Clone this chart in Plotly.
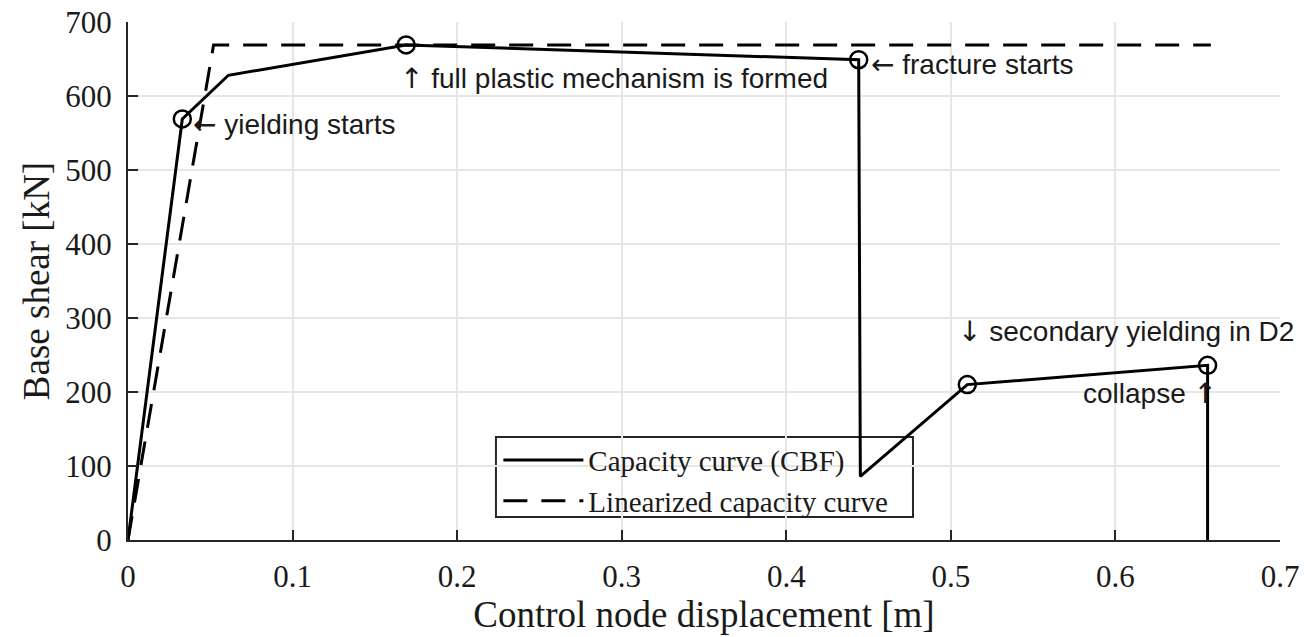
import plotly.graph_objects as go

# Capacity curve (CBF)
cap_x = [0.0, 0.033, 0.061, 0.169, 0.444, 0.445, 0.510, 0.656, 0.656]
cap_y = [0, 569, 628, 669, 649, 86, 210, 236, 0]

# Linearized capacity curve
lin_x = [0.0, 0.052, 0.658]
lin_y = [0, 669, 669]

# Marked events (indices into capacity curve)
event_idx = [1, 3, 4, 6, 7]

x_ticks = [0, 0.1, 0.2, 0.3, 0.4, 0.5, 0.6, 0.7]
x_tick_text = ["0", "0.1", "0.2", "0.3", "0.4", "0.5", "0.6", "0.7"]
y_ticks = [0, 100, 200, 300, 400, 500, 600, 700]

ARROW = '<span style="font-family:DejaVu Sans">{}</span>'
annotations_data = [
    (ARROW.format("\u2190") + " yielding starts", 0.0385, 562, "left"),
    (ARROW.format("\u2191") + " full plastic mechanism is formed", 0.164, 624, "left"),
    (ARROW.format("\u2190") + " fracture starts", 0.450, 642, "left"),
    (ARROW.format("\u2193") + " secondary yielding in D2", 0.503, 282, "left"),
    ("collapse " + ARROW.format("\u2191"), 0.663, 198, "right"),
]

SERIF = "Liberation Serif, Times New Roman, serif"
SANS = "Liberation Sans, Arial, sans-serif"
TXT = "#1a1a1a"

fig = go.Figure()
fig.add_trace(go.Scatter(
    x=cap_x, y=cap_y, mode="lines", name="Capacity curve (CBF)",
    line=dict(color="black", width=3),
))
fig.add_trace(go.Scatter(
    x=lin_x, y=lin_y, mode="lines", name="Linearized capacity curve",
    line=dict(color="black", width=3, dash="24px,14px"),
))
fig.add_trace(go.Scatter(
    x=[cap_x[i] for i in event_idx], y=[cap_y[i] for i in event_idx],
    mode="markers", showlegend=False,
    marker=dict(symbol="circle-open", size=17, color="black", line=dict(width=2.5)),
))

for text, ax, ay, anchor in annotations_data:
    fig.add_annotation(
        x=ax, y=ay, text=text, showarrow=False, xanchor=anchor, yanchor="middle",
        font=dict(family=SANS, size=28, color=TXT),
    )

# legend frame: white box drawn above the grid but below the curves
fig.add_shape(
    type="rect", xref="paper", yref="paper",
    x0=0.3194, x1=0.6814, y0=0.0444, y1=0.1988,
    fillcolor="white", line=dict(color="#262626", width=2), layer="between",
)

axis_common = dict(
    showgrid=True, gridcolor="#e6e6e6", gridwidth=1.5,
    showline=True, linecolor="#262626", linewidth=2,
    ticks="inside", ticklen=10, tickwidth=1.5, tickcolor="#262626",
    zeroline=False, mirror=False, automargin=False,
    ticklabeloverflow="allow",
    tickfont=dict(family=SERIF, size=31, color=TXT),
)

fig.update_xaxes(
    range=[0, 0.7], tickvals=x_ticks, ticktext=x_tick_text,
    ticklabelstandoff=8,
    title=dict(text="Control node displacement [m]", font=dict(family=SERIF, size=37, color=TXT), standoff=2),
    **axis_common,
)
fig.update_yaxes(
    range=[0, 700], tickvals=y_ticks,
    ticklabelstandoff=8,
    title=dict(text="Base shear [kN]", font=dict(family=SERIF, size=37, color=TXT), standoff=4),
    **axis_common,
)

fig.update_layout(
    width=1301, height=629,
    margin=dict(l=120, r=29, t=14, b=97),
    plot_bgcolor="white", paper_bgcolor="white",
    showlegend=True,
    legend=dict(
        x=0.3215, y=0.2035, xanchor="left", yanchor="top",
        bgcolor="rgba(0,0,0,0)", borderwidth=0,
        font=dict(family=SERIF, size=29, color=TXT),
        tracegroupgap=0, itemwidth=80,
    ),
)

fig.write_html("out.html")
